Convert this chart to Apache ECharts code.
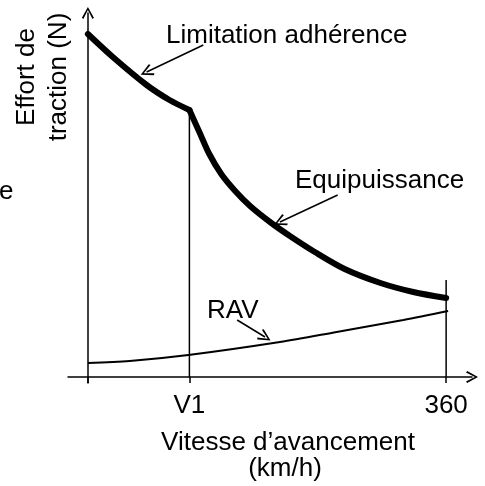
<!DOCTYPE html>
<html>
<head>
<meta charset="utf-8">
<script src="https://cdn.jsdelivr.net/npm/echarts@6/dist/echarts.min.js"></script>
<style>
  html, body { margin: 0; padding: 0; background: #fff; }
  #chart { width: 485px; height: 486px; }
</style>
</head>
<body>
<div id="chart"></div>
<script>
// vitesse (km/h) / effort (unités arbitraires)
const V1 = 102
const xTickValues = [0, V1, 360]
const xLabelValues = [V1, 360]
const xLabels = ['V1', '360']

const limitationAdherence = [[0, 343], [25, 320], [59, 292], [82, 277], [102, 267]]
const equipuissance = [[102, 267], [112, 245], [122, 223], [134, 203], [148, 186], [163, 171],
  [183, 155], [203, 141], [228, 125], [258, 108], [294, 94], [327, 85], [360, 79]]
const rav = [[0, 14], [42, 16], [101, 22], [193, 35], [250, 45], [317, 57], [362, 66]]

const v1Line = [[V1, 0], [V1, 262]]
const maxLine = [[360, 0], [360, 97]]

// flèches d'annotation [départ, pointe]
const arrowLimitation = [[116, 332], [59, 305]]
const arrowEquip = [[251, 182], [193, 155]]
const arrowRav = [[150, 57], [178, 40]]

const FONT = 'Liberation Sans, Arial, sans-serif'
const chevron = 'path://M5,0 L10,9 L8.8,10 L5,2.6 L1.2,10 L0,9 Z'

const chart = echarts.init(document.getElementById('chart'))

function arrow(a) {
  return [{ coord: a[0] }, { coord: a[1] }]
}

function arrowMark(a) {
  return {
    silent: true,
    symbol: ['none', chevron],
    symbolSize: [12, 13],
    label: { show: false },
    lineStyle: { color: '#000', width: 1.5, type: 'solid' },
    data: [arrow(a)]
  }
}

const option = {
  animation: false,
  grid: { left: 68, right: 13, top: 13, bottom: 103 },
  xAxis: {
    type: 'value',
    min: -20,
    max: 386,
    splitLine: { show: false },
    axisLine: {
      onZero: true,
      lineStyle: { color: '#000', width: 1.5 },
      symbol: ['none', chevron],
      symbolSize: [12, 13]
    },
    axisTick: { show: true, customValues: xTickValues, length: 6, lineStyle: { color: '#000', width: 1.5 } },
    axisLabel: {
      customValues: xLabelValues,
      formatter: v => xLabels[xLabelValues.indexOf(v)],
      color: '#000',
      fontSize: 26,
      fontFamily: FONT,
      margin: 10
    }
  },
  yAxis: {
    type: 'value',
    min: -6,
    max: 364,
    splitLine: { show: false },
    axisLine: {
      onZero: true,
      lineStyle: { color: '#000', width: 1.5 },
      symbol: ['none', chevron],
      symbolSize: [12, 13]
    },
    axisTick: { show: false },
    axisLabel: { show: false }
  },
  graphic: [
    { type: 'text', x: 43, y: 77, rotation: Math.PI / 2,
      style: { text: 'Effort de\ntraction (N)', font: '26px ' + FONT, lineHeight: 32, fill: '#000', align: 'center', verticalAlign: 'middle' } },
    { type: 'text', x: -1, y: 192,
      style: { text: 'e', font: '26px ' + FONT, fill: '#000', align: 'left', verticalAlign: 'middle' } },
    { type: 'text', x: 166, y: 36,
      style: { text: 'Limitation adhérence', font: '26px ' + FONT, fill: '#000', align: 'left', verticalAlign: 'middle' } },
    { type: 'text', x: 295, y: 181,
      style: { text: 'Equipuissance', font: '26px ' + FONT, fill: '#000', align: 'left', verticalAlign: 'middle' } },
    { type: 'text', x: 207, y: 311,
      style: { text: 'RAV', font: '26px ' + FONT, fill: '#000', align: 'left', verticalAlign: 'middle' } },
    { type: 'text', x: 288, y: 443,
      style: { text: 'Vitesse d’avancement', font: '26px ' + FONT, fill: '#000', align: 'center', verticalAlign: 'middle' } },
    { type: 'text', x: 285, y: 469,
      style: { text: '(km/h)', font: '26px ' + FONT, fill: '#000', align: 'center', verticalAlign: 'middle' } }
  ],
  series: [
    {
      name: 'Limitation adhérence',
      type: 'line',
      data: limitationAdherence,
      smooth: 0.3,
      symbol: 'none',
      lineStyle: { color: '#000', width: 6, cap: 'round' },
      markLine: arrowMark(arrowLimitation)
    },
    {
      name: 'Equipuissance',
      type: 'line',
      data: equipuissance,
      smooth: 0.3,
      symbol: 'none',
      lineStyle: { color: '#000', width: 6, cap: 'round' },
      markLine: arrowMark(arrowEquip)
    },
    {
      name: 'RAV',
      type: 'line',
      data: rav,
      smooth: 0.3,
      symbol: 'none',
      lineStyle: { color: '#000', width: 2 },
      markLine: arrowMark(arrowRav)
    },
    {
      name: 'V1',
      type: 'line',
      data: v1Line,
      symbol: 'none',
      lineStyle: { color: '#000', width: 1.5 }
    },
    {
      name: '360',
      type: 'line',
      data: maxLine,
      symbol: 'none',
      lineStyle: { color: '#000', width: 1.5 }
    }
  ]
}

chart.setOption(option)
</script>
</body>
</html>
